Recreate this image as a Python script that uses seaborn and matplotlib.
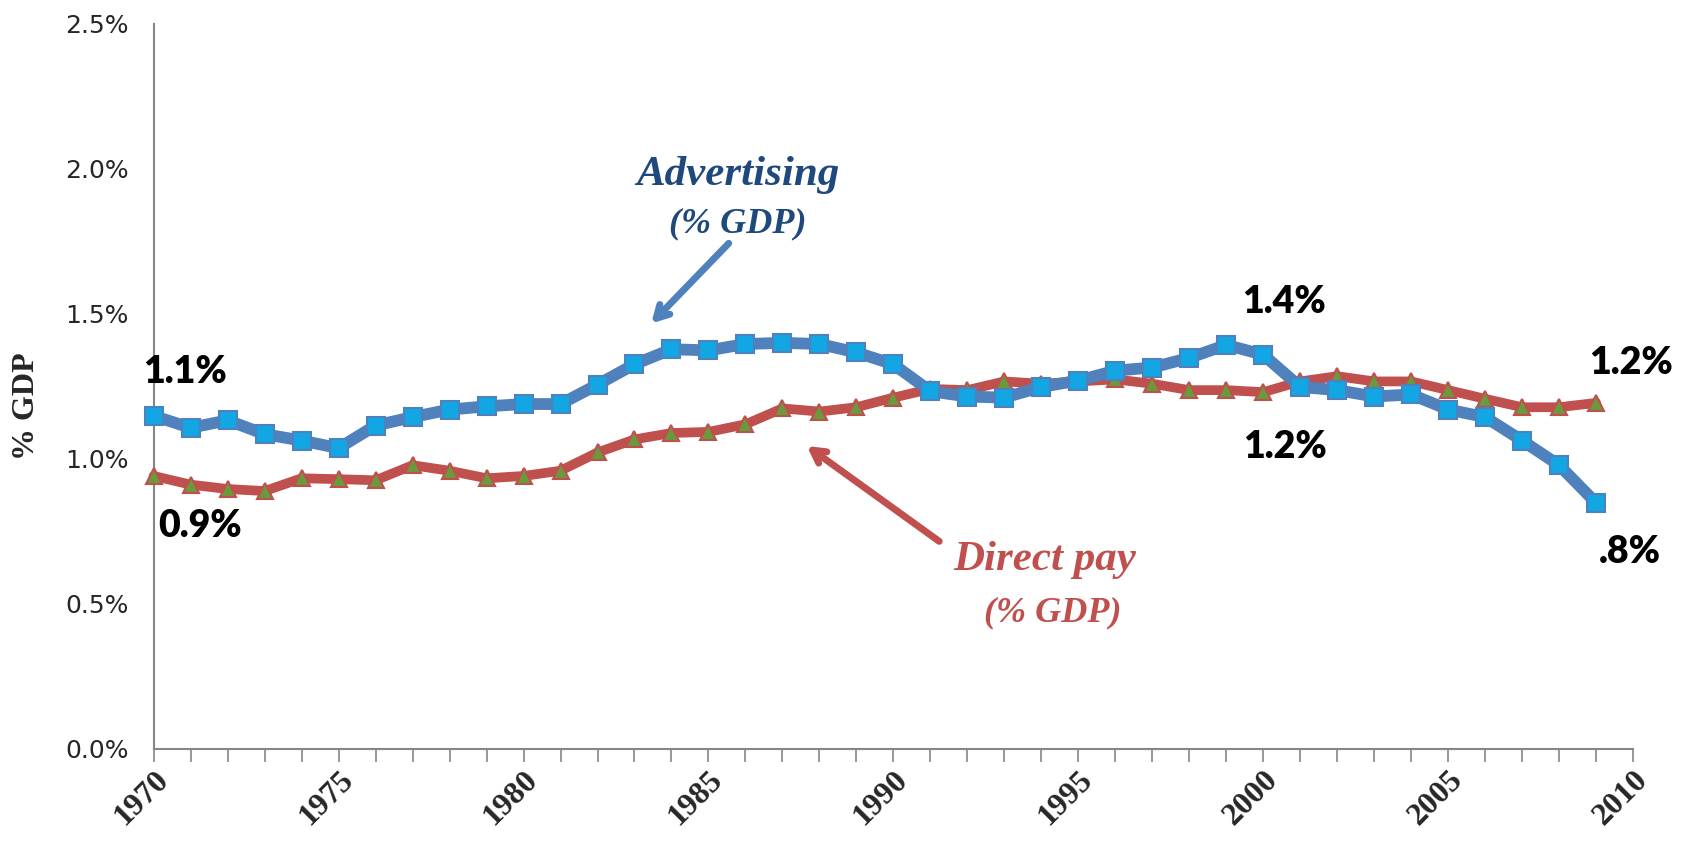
import matplotlib
matplotlib.use("Agg")
import matplotlib.pyplot as plt
import matplotlib.ticker as mticker
import pandas as pd
import seaborn as sns

years = list(range(1970, 2010))

advertising = [1.148, 1.107, 1.133, 1.085, 1.063, 1.037, 1.115, 1.144, 1.170, 1.181,
               1.189, 1.189, 1.256, 1.326, 1.378, 1.374, 1.396, 1.400, 1.396, 1.367,
               1.326, 1.233, 1.215, 1.211, 1.248, 1.270, 1.304, 1.315, 1.348, 1.393,
               1.359, 1.248, 1.237, 1.215, 1.222, 1.170, 1.144, 1.063, 0.978, 0.848]

direct_pay = [0.941, 0.911, 0.896, 0.889, 0.933, 0.930, 0.926, 0.978, 0.959, 0.933,
              0.941, 0.959, 1.022, 1.067, 1.089, 1.093, 1.119, 1.174, 1.163, 1.178,
              1.211, 1.241, 1.237, 1.267, 1.259, 1.267, 1.274, 1.259, 1.237, 1.237,
              1.230, 1.267, 1.285, 1.267, 1.267, 1.237, 1.207, 1.178, 1.178, 1.193]

# value callouts: (text, year, value %)
callouts = [("1.1%", 1970.85, 1.30), ("0.9%", 1971.25, 0.77),
            ("1.4%", 2000.55, 1.54), ("1.2%", 2000.6, 1.04),
            ("1.2%", 2009.95, 1.33), (".8%", 2009.9, 0.68)]

df = pd.DataFrame({"year": years,
                   "Advertising": [v / 100 for v in advertising],
                   "Direct pay": [v / 100 for v in direct_pay]})

sns.set_style("white")
fig = plt.figure(figsize=(16.85, 8.51), dpi=100)
ax = fig.add_axes([0.0912, 0.120, 0.878, 0.852])

sns.lineplot(data=df, x="year", y="Direct pay", ax=ax, color="#C0504D", lw=7,
             marker="^", markersize=12, markerfacecolor="#6A9A3C",
             markeredgecolor="#C0504D", markeredgewidth=1.5, clip_on=False, zorder=3)
sns.lineplot(data=df, x="year", y="Advertising", ax=ax, color="#4F81BD", lw=8.5,
             marker="s", markersize=13, markerfacecolor="#12A6E4",
             markeredgecolor="#4F81BD", markeredgewidth=1.5, clip_on=False, zorder=4)

ax.set_xlim(1970, 2010)
ax.set_ylim(0, 0.025)
ax.yaxis.set_major_locator(mticker.MultipleLocator(0.005))
ax.yaxis.set_major_formatter(mticker.PercentFormatter(1.0, decimals=1))
ax.xaxis.set_major_locator(mticker.MultipleLocator(5))
ax.xaxis.set_minor_locator(mticker.MultipleLocator(1))

for s in ["top", "right"]:
    ax.spines[s].set_visible(False)
for s in ["left", "bottom"]:
    ax.spines[s].set_color("#868686")
    ax.spines[s].set_linewidth(1.5)

ax.tick_params(axis="y", which="major", direction="out", length=8, width=1.2,
               color="#868686", labelsize=18, pad=10)
ax.tick_params(axis="x", which="both", direction="out", length=9, width=1.2,
               color="#868686", bottom=True)
ax.tick_params(axis="x", which="major", pad=3)
for lab in ax.get_xticklabels():
    lab.set_fontfamily("Liberation Serif")
    lab.set_fontweight("bold")
    lab.set_fontsize(23)
    lab.set_rotation(45)
    lab.set_ha("right")
    lab.set_va("top")
    lab.set_rotation_mode("anchor")

ax.set_xlabel("")
ax.set_ylabel("% GDP", fontfamily="Liberation Serif", fontweight="bold",
              fontsize=23, va="center")
ax.yaxis.set_label_coords(-0.086, 0.473)

for text, x, y in callouts:
    ax.text(x, y / 100, text, fontfamily="Lato", fontweight="heavy", fontsize=27,
            ha="center", va="center", color="black")

serif = dict(fontfamily="Liberation Serif", fontweight="bold", style="italic")
ax.text(1985.8, 0.0198, "Advertising", color="#1F497D", fontsize=31,
        ha="center", va="center", **serif)
ax.text(1985.8, 0.0181, "(% GDP)", color="#1F497D", fontsize=26,
        ha="center", va="center", **serif)
ax.text(1994.1, 0.0065, "Direct pay", color="#C0504D", fontsize=31,
        ha="center", va="center", **serif)
ax.text(1994.3, 0.0047, "(% GDP)", color="#C0504D", fontsize=26,
        ha="center", va="center", **serif)

ax.annotate("", xy=(1983.4, 0.0146), xytext=(1985.6, 0.0175),
            arrowprops=dict(arrowstyle="->,head_length=0.9,head_width=0.5",
                            color="#4F81BD", lw=5))
ax.annotate("", xy=(1987.6, 0.0105), xytext=(1991.3, 0.0071),
            arrowprops=dict(arrowstyle="->,head_length=0.9,head_width=0.5",
                            color="#C0504D", lw=5))

fig.savefig("out.png", dpi=100)
